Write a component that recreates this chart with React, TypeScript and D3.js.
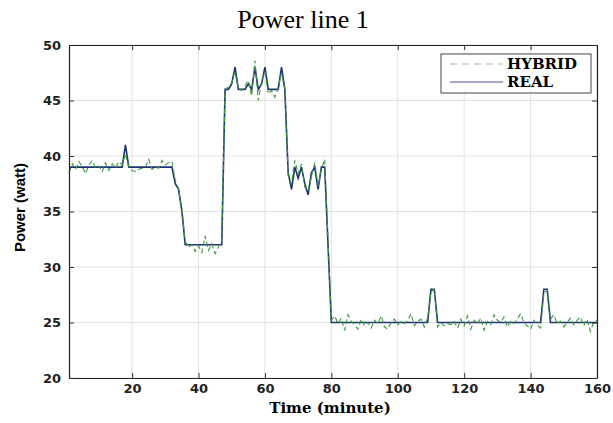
import React, { useRef, useEffect } from 'react'
import * as d3 from 'd3'

// minutes 1..160
const realPower = [
  39, 39, 39, 39, 39, 39, 39, 39, 39, 39, 39, 39, 39, 39, 39, 39, 39, 41, 39, 39,
  39, 39, 39, 39, 39, 39, 39, 39, 39, 39, 39, 39, 37.5, 37, 35, 32, 32, 32, 32, 32,
  32, 32, 32, 32, 32, 32, 32, 46, 46, 46.5, 48, 46, 46, 46, 46.5, 46, 48, 46, 46.5, 48,
  46, 46, 46, 46, 48, 46, 38.5, 37, 39, 38, 39, 37.5, 36.5, 38.5, 39, 37, 39, 39, 32, 25,
  25, 25, 25, 25, 25, 25, 25, 25, 25, 25, 25, 25, 25, 25, 25, 25, 25, 25, 25, 25,
  25, 25, 25, 25, 25, 25, 25, 25, 25, 28, 28, 25, 25, 25, 25, 25, 25, 25, 25, 25,
  25, 25, 25, 25, 25, 25, 25, 25, 25, 25, 25, 25, 25, 25, 25, 25, 25, 25, 25, 25,
  25, 25, 25, 28, 28, 25, 25, 25, 25, 25, 25, 25, 25, 25, 25, 25, 25, 25, 25, 25,
]

const hybridPower = [
  38.5, 39.3, 38.8, 39.5, 39.0, 38.4, 39.2, 39.6, 38.9, 39.1, 38.6, 39.4, 38.7, 39.3, 38.9, 39.5, 39.2, 40.2, 39.0, 38.7,
  38.6, 38.8, 38.9, 39.0, 39.7, 38.8, 39.0, 38.9, 39.6, 39.2, 39.4, 39.5, 37.8, 37.0, 35.2, 32.3, 31.8, 32.0, 31.4, 31.9,
  31.3, 32.8, 31.5, 32.1, 31.2, 31.8, 32.4, 46.0, 46.2, 46.6, 47.6, 46.1, 45.9, 46.3, 46.8, 45.4, 48.6, 45.0, 46.7, 47.6,
  45.6, 45.9, 45.3, 46.2, 47.5, 46.0, 38.2, 37.5, 39.6, 38.4, 39.3, 37.2, 36.9, 38.1, 39.4, 37.3, 38.8, 39.7, 32.5, 25.2,
  25.6, 24.9, 25.4, 24.3, 25.7, 25.1, 24.8, 24.4, 25.3, 24.7, 25.0, 24.5, 25.2, 24.9, 25.6, 24.6, 24.4, 25.0, 25.3, 24.8,
  25.1, 24.9, 25.2, 25.8, 24.7, 25.1, 25.3, 24.6, 25.4, 27.8, 28.0, 24.6, 25.0, 24.7, 24.9, 24.8, 25.1, 24.5, 25.3, 24.7,
  25.6, 24.4, 25.2, 24.9, 25.4, 24.3, 25.1, 24.8, 25.7, 25.2, 25.0, 25.5, 24.6, 25.1, 24.9, 25.3, 25.8, 25.0, 24.7, 24.4,
  25.2, 24.8, 24.5, 27.6, 27.9, 25.3, 25.7, 24.9, 25.1, 24.6, 25.0, 25.4, 24.8, 25.2, 25.5, 24.7, 25.3, 24.2, 25.0, 25.2,
]

const xTicks = [20, 40, 60, 80, 100, 120, 140, 160]
const yTicks = [20, 25, 30, 35, 40, 45, 50]
const seriesNames = ['HYBRID', 'REAL']

const W = 613, H = 423

const App = () => {
  const svgRef = useRef<SVGSVGElement>(null)

  useEffect(() => {
    const svg = d3.select(svgRef.current)
    svg.selectAll('*').remove()

    const margin = { top: 45, right: 16, bottom: 45, left: 69 }
    const w = W - margin.left - margin.right
    const h = H - margin.top - margin.bottom

    const x = d3.scaleLinear().domain([1, 160]).range([0, w])
    const y = d3.scaleLinear().domain([20, 50]).range([h, 0])

    svg.append('text')
      .attr('x', 303).attr('y', 28)
      .attr('text-anchor', 'middle')
      .style('font-family', '"Liberation Serif", serif')
      .style('font-size', '26px')
      .text('Power line 1')

    const g = svg.append('g').attr('transform', `translate(${margin.left},${margin.top})`)

    // grid
    g.append('g').selectAll('line').data(xTicks).join('line')
      .attr('x1', d => x(d)).attr('x2', d => x(d))
      .attr('y1', 0).attr('y2', h)
      .attr('stroke', '#e2e2e2')
    g.append('g').selectAll('line').data(yTicks).join('line')
      .attr('x1', 0).attr('x2', w)
      .attr('y1', d => y(d)).attr('y2', d => y(d))
      .attr('stroke', '#e2e2e2')

    const line = d3.line<number>()
      .x((d, i) => x(i + 1))
      .y(d => y(d))

    g.append('path')
      .datum(realPower)
      .attr('d', line)
      .attr('fill', 'none')
      .attr('stroke', '#1e3472')
      .attr('stroke-width', 1.6)

    g.append('path')
      .datum(hybridPower)
      .attr('d', line)
      .attr('fill', 'none')
      .attr('stroke', '#3c9a3c')
      .attr('stroke-width', 1.1)
      .attr('stroke-dasharray', '5,3')

    // axes (matlab style, ticks inside)
    const xAxis = d3.axisBottom(x).tickValues(xTicks).tickSizeInner(-5).tickSizeOuter(0).tickPadding(6)
    const yAxis = d3.axisLeft(y).tickValues(yTicks).tickSizeInner(-5).tickSizeOuter(0).tickPadding(8)

    const xg = g.append('g').attr('transform', `translate(0,${h})`).call(xAxis)
    const yg = g.append('g').call(yAxis)
    g.append('g').call(d3.axisTop(x).tickValues(xTicks).tickSizeInner(-5).tickSizeOuter(0).tickFormat(() => ''))
    g.append('g').attr('transform', `translate(${w},0)`)
      .call(d3.axisRight(y).tickValues(yTicks).tickSizeInner(-5).tickSizeOuter(0).tickFormat(() => ''))

    g.selectAll('.domain').attr('stroke', '#222').attr('stroke-width', 1.2)
    g.selectAll('.tick line').attr('stroke', '#333')
    ;[xg, yg].forEach(a => a.selectAll('text')
      .style('font-family', '"DejaVu Sans", sans-serif')
      .style('font-weight', 'bold')
      .style('font-size', '13px')
      .attr('fill', '#222'))

    svg.append('text')
      .attr('x', margin.left + w / 2 - 3).attr('y', 413)
      .attr('text-anchor', 'middle')
      .style('font-family', '"DejaVu Serif", serif')
      .style('font-weight', 'bold')
      .style('font-size', '15px')
      .text('Time (minute)')

    svg.append('text')
      .attr('transform', `translate(25,${margin.top + h / 2 - 4}) rotate(-90)`)
      .attr('text-anchor', 'middle')
      .style('font-family', '"Liberation Sans", sans-serif')
      .style('font-weight', 'bold')
      .style('font-size', '15px')
      .text('Power (watt)')

    // legend
    const lg = svg.append('g').attr('transform', 'translate(441,54)')
    lg.append('rect')
      .attr('width', 150).attr('height', 39)
      .attr('fill', '#fff').attr('stroke', '#444')
    const legendStyles = [
      { stroke: '#9fb39f', dash: '7,5' },
      { stroke: '#4a4fa0', dash: null },
    ]
    seriesNames.forEach((name, i) => {
      const yy = 10 + i * 18
      lg.append('line')
        .attr('x1', 9).attr('x2', 62).attr('y1', yy).attr('y2', yy)
        .attr('stroke', legendStyles[i].stroke)
        .attr('stroke-width', 1.2)
        .attr('stroke-dasharray', legendStyles[i].dash)
      lg.append('text')
        .attr('x', 66).attr('y', yy + 5)
        .style('font-family', '"DejaVu Serif", serif')
        .style('font-weight', 'bold')
        .style('font-size', '15px')
        .text(name)
    })
  }, [])

  return (
    <svg ref={svgRef} width={W} height={H}
      style={{ position: 'absolute', left: 0, top: 0, background: '#fff' }} />
  )
}

export default App
